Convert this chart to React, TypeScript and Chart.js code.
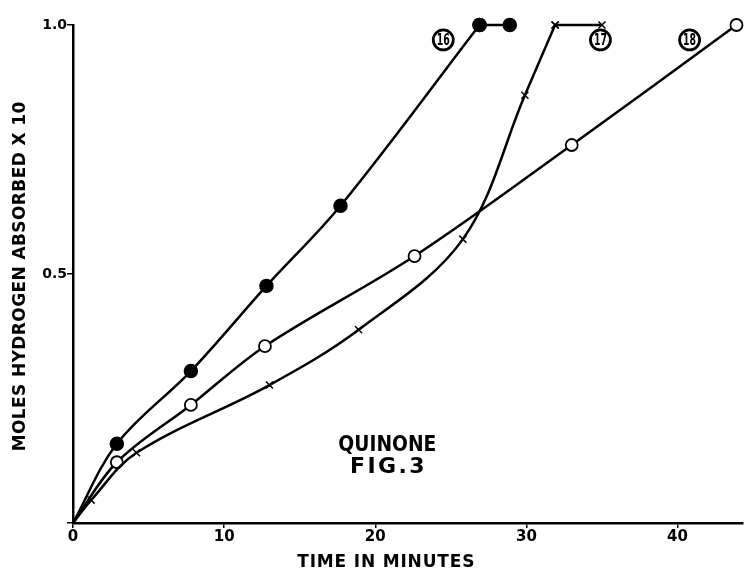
import React, { useEffect, useRef } from "react";
import { Chart, registerables } from "chart.js";

Chart.register(...registerables);

// Curve 16 (filled circles)
const x16 = [0, 2.9, 7.8, 12.8, 17.7, 26.9];
const y16 = [0, 0.159, 0.305, 0.476, 0.637, 1.0];
const x16flat = [26.9, 28.9];
const y16flat = [1.0, 1.0];
// Curve 17 (crosses)
const x17 = [0, 1.2, 4.2, 13.0, 18.9, 25.8, 29.9, 31.9];
const y17 = [0, 0.046, 0.141, 0.277, 0.388, 0.57, 0.859, 1.0];
const x17flat = [31.9, 35.0];
const y17flat = [1.0, 1.0];
// Curve 18 (open circles)
const x18 = [0, 2.9, 7.8, 12.7, 22.6, 33.0, 43.9];
const y18 = [0, 0.122, 0.237, 0.355, 0.536, 0.759, 1.0];

const xTicks = [0, 10, 20, 30, 40];
const yTicks = [0, 0.5, 1.0];

const xTitle = "TIME IN MINUTES";
const yTitle = "MOLES HYDROGEN ABSORBED X 10";

const curveLabels = [
  { text: "16", x: 24.5, y: 0.97 },
  { text: "17", x: 34.9, y: 0.97 },
  { text: "18", x: 40.8, y: 0.97 },
];
const figText = [
  { text: "QUINONE", x: 20.8, y: 0.157, w: 98 },
  { text: "FIG.3", x: 20.8, y: 0.112, w: 77 },
];

const FONT = "'DejaVu Sans', sans-serif";

const pts = (xs: number[], ys: number[]) => xs.map((x, i) => ({ x, y: ys[i] }));

// draw text centred at (0,0) of current transform, fitted to a target width
function drawFitted(ctx: CanvasRenderingContext2D, text: string, target: number) {
  (ctx as any).letterSpacing = "0px";
  const w = ctx.measureText(text).width;
  if (w > target) {
    ctx.save();
    ctx.scale(target / w, 1);
    ctx.fillText(text, 0, 0);
    ctx.restore();
  } else {
    const sp = (target - w) / Math.max(1, text.length);
    (ctx as any).letterSpacing = `${sp}px`;
    ctx.fillText(text, sp / 2, 0);
    (ctx as any).letterSpacing = "0px";
  }
}

const annotPlugin = {
  id: "annot",
  afterDraw(chart: any) {
    const { ctx, scales, chartArea } = chart;
    const xs = scales.x;
    const ys = scales.y;
    ctx.save();
    ctx.fillStyle = "#000";
    ctx.strokeStyle = "#000";
    ctx.textAlign = "center";
    ctx.textBaseline = "middle";
    curveLabels.forEach((l) => {
      const px = xs.getPixelForValue(l.x);
      const py = ys.getPixelForValue(l.y);
      ctx.lineWidth = 2.8;
      ctx.beginPath();
      ctx.arc(px, py, 10, 0, Math.PI * 2);
      ctx.stroke();
      ctx.font = `bold 15px ${FONT}`;
      ctx.save();
      ctx.translate(px, py + 1);
      drawFitted(ctx, l.text, 13);
      ctx.restore();
    });
    ctx.font = `bold 22px ${FONT}`;
    figText.forEach((t) => {
      ctx.save();
      ctx.translate(xs.getPixelForValue(t.x), ys.getPixelForValue(t.y));
      drawFitted(ctx, t.text, t.w);
      ctx.restore();
    });
    // axis titles
    ctx.font = `bold 17px ${FONT}`;
    ctx.save();
    ctx.translate(xs.getPixelForValue(20.7), chartArea.bottom + 40);
    drawFitted(ctx, xTitle, 178);
    ctx.restore();
    ctx.save();
    ctx.translate(21, ys.getPixelForValue(0.495));
    ctx.rotate(-Math.PI / 2);
    drawFitted(ctx, yTitle, 350);
    ctx.restore();
    ctx.restore();
  },
};

export default function App() {
  const ref = useRef<HTMLCanvasElement>(null);
  useEffect(() => {
    document.body.style.margin = "0";
    const common = {
      borderColor: "#000",
      borderWidth: 2.5,
      showLine: true,
      fill: false,
      tension: 0.35,
      clip: false as const,
    };
    const flat = {
      borderColor: "#000",
      borderWidth: 2.5,
      showLine: true,
      fill: false,
      tension: 0,
      pointRadius: 0,
      clip: false as const,
    };
    const chart = new Chart(ref.current!, {
      type: "scatter",
      data: {
        datasets: [
          { ...flat, label: "16f", data: pts(x16flat, y16flat), pointRadius: 6, pointStyle: "circle", pointBackgroundColor: "#000", pointBorderColor: "#000" },
          { ...flat, label: "17f", data: pts(x17flat, y17flat), pointRadius: 5, pointStyle: "crossRot", pointBorderColor: "#000", pointBorderWidth: 1.5 },
          {
            ...common,
            label: "16",
            data: pts(x16, y16),
            pointStyle: "circle",
            pointRadius: x16.map((x) => (x === 0 ? 0 : 6)),
            backgroundColor: "#000",
            pointBorderColor: "#000",
            pointBackgroundColor: "#000",
          },
          {
            ...common,
            label: "17",
            data: pts(x17, y17),
            pointStyle: "crossRot",
            pointRadius: x17.map((x) => (x === 0 ? 0 : 5)),
            pointBorderColor: "#000",
            pointBorderWidth: 1.5,
          },
          {
            ...common,
            label: "18",
            data: pts(x18, y18),
            pointStyle: "circle",
            pointRadius: x18.map((x) => (x === 0 ? 0 : 6)),
            pointBorderColor: "#000",
            pointBackgroundColor: "#fff",
            pointBorderWidth: 1.8,
          },
        ],
      },
      options: {
        animation: false,
        responsive: false,
        maintainAspectRatio: false,
        layout: { padding: { top: 25, right: 5, left: 0, bottom: 0 } },
        plugins: {
          legend: { display: false },
          tooltip: { enabled: false },
        },
        scales: {
          x: {
            type: "linear",
            min: 0,
            max: 44.3,
            afterBuildTicks: (s: any) => {
              s.ticks = xTicks.map((v) => ({ value: v }));
            },
            afterFit: (s: any) => {
              s.height = 51;
            },
            ticks: {
              color: "#000",
              font: { family: FONT, size: 15, weight: "bold" },
              padding: 0,
              callback: (v: any) => String(v),
            },
            grid: {
              drawOnChartArea: false,
              drawTicks: true,
              tickLength: 5,
              color: "#000",
              lineWidth: 1.5,
            },
            border: { color: "#000", width: 2.5 },
          },
          y: {
            type: "linear",
            min: 0,
            max: 1.0,
            afterBuildTicks: (s: any) => {
              s.ticks = yTicks.map((v) => ({ value: v }));
            },
            afterFit: (s: any) => {
              s.width = 73;
            },
            ticks: {
              color: "#000",
              font: { family: FONT, size: 14, weight: "bold" },
              padding: 0,
              callback: (v: any) => (v === 0 ? "" : Number(v).toFixed(1)),
            },
            grid: {
              drawOnChartArea: false,
              drawTicks: true,
              tickLength: 6,
              color: "#000",
              lineWidth: 1.5,
            },
            border: { color: "#000", width: 2.5 },
          },
        },
      },
      plugins: [annotPlugin],
    });
    return () => chart.destroy();
  }, []);
  return (
    <div style={{ position: "fixed", left: 0, top: 0, width: 751, height: 574, background: "#fff" }}>
      <canvas ref={ref} width={751} height={574} style={{ width: 751, height: 574 }} />
    </div>
  );
}
